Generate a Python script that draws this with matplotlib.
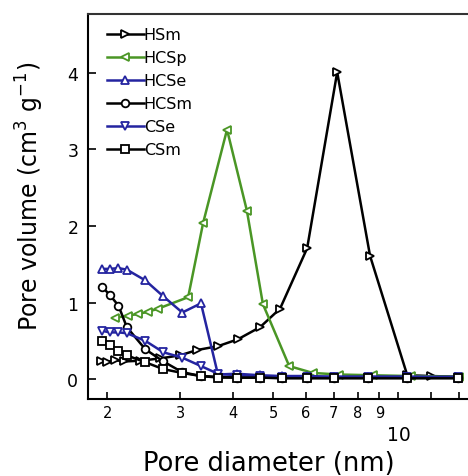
import matplotlib
matplotlib.use("Agg")
import matplotlib.pyplot as plt
from matplotlib.ticker import FixedLocator, FixedFormatter

# pore diameters (nm)
d_common = [1.95, 2.03, 2.13, 2.23, 2.47, 2.73, 3.03, 3.36, 3.69, 4.09,
            4.66, 5.25, 6.04, 7.02, 8.46, 10.5, 13.9]
d_hsm = [1.93, 2.0, 2.09, 2.19, 2.40, 2.68, 2.99, 3.29, 3.69, 4.12,
         4.66, 5.20, 6.04, 7.13, 8.55, 10.5, 12.0, 14.0]
d_hcsp = [2.09, 2.25, 2.37, 2.51, 2.65, 3.13, 3.40, 3.88, 4.33, 4.73,
          5.47, 6.24, 7.2, 8.69, 10.7, 14.0]

# pore volume (cm3/g)
v_hsm = [0.24, 0.22, 0.25, 0.23, 0.24, 0.27, 0.31, 0.38, 0.43, 0.52,
         0.68, 0.92, 1.71, 4.01, 1.61, 0.05, 0.04, 0.03]
v_hcsp = [0.80, 0.83, 0.85, 0.88, 0.92, 1.07, 2.04, 3.26, 2.20, 0.98,
          0.17, 0.08, 0.06, 0.05, 0.04, 0.03]
v_hcse = [1.44, 1.44, 1.45, 1.43, 1.29, 1.08, 0.87, 0.99, 0.06, 0.07,
          0.05, 0.04, 0.04, 0.03, 0.03, 0.03, 0.02]
v_hcsm = [1.20, 1.10, 0.96, 0.68, 0.39, 0.23, 0.09, 0.04, 0.03, 0.02,
          0.02, 0.02, 0.02, 0.02, 0.02, 0.02, 0.02]
v_cse = [0.63, 0.61, 0.61, 0.60, 0.50, 0.35, 0.28, 0.17, 0.07, 0.05,
         0.04, 0.03, 0.03, 0.03, 0.03, 0.03, 0.03]
v_csm = [0.50, 0.44, 0.37, 0.31, 0.22, 0.13, 0.08, 0.04, 0.02, 0.02,
         0.02, 0.01, 0.01, 0.01, 0.01, 0.01, 0.01]

minor_ticks = [2, 3, 4, 5, 6, 7, 8, 9, 12, 14]
minor_labels = ["2", "3", "4", "5", "6", "7", "8", "9", "", ""]

green = "#4a9625"
blue = "#2424a0"

series = [
    ("HSm", d_hsm, v_hsm, "black", ">"),
    ("HCSp", d_hcsp, v_hcsp, green, "<"),
    ("HCSe", d_common, v_hcse, blue, "^"),
    ("HCSm", d_common, v_hcsm, "black", "o"),
    ("CSe", d_common, v_cse, blue, "v"),
    ("CSm", d_common, v_csm, "black", "s"),
]

fig = plt.figure(figsize=(4.68, 4.77), dpi=100)
ax = fig.add_axes([88 / 468, 1 - 400 / 477, 382 / 468, 385 / 477])

for name, d, v, col, mk in series:
    ax.plot(d, v, color=col, marker=mk, markersize=5.5, markerfacecolor="white",
            markeredgecolor=col, markeredgewidth=1.3, linewidth=1.8, label=name)

ax.set_xscale("log")
ax.set_xlim(1.80, 14.85)
ax.set_ylim(-0.26, 4.77)

ax.xaxis.set_major_locator(FixedLocator([10]))
ax.xaxis.set_major_formatter(FixedFormatter(["10"]))
ax.xaxis.set_minor_locator(FixedLocator(minor_ticks))
ax.xaxis.set_minor_formatter(FixedFormatter(minor_labels))
ax.tick_params(axis="x", which="major", direction="in", length=5, width=1.2,
               labelsize=13.5, pad=19)
ax.tick_params(axis="x", which="minor", direction="in", length=5, width=1.2,
               labelsize=10.5, pad=4)

ax.set_yticks([0, 1, 2, 3, 4])
ax.tick_params(axis="y", direction="in", length=6, width=1.2, labelsize=12.5, pad=7)

for s in ax.spines.values():
    s.set_linewidth(1.5)
ax.spines["top"].set_color("#333333")

ax.set_xlabel("Pore diameter (nm)", fontsize=18.5)
ax.xaxis.label.set_va("center")
ax.xaxis.set_label_coords(0.474, -0.165)
ax.set_ylabel(r"Pore volume (cm$^{3}$ g$^{-1}$)", fontsize=17)
ax.yaxis.label.set_va("center")
ax.yaxis.set_label_coords(-0.152, 0.53)

ax.legend(loc="upper left", bbox_to_anchor=(0.05, 0.965), frameon=False,
          fontsize=11.5, handlelength=2.3, handletextpad=0.0, labelspacing=0.5,
          borderaxespad=0, borderpad=0)

fig.savefig("out.png", dpi=100)
